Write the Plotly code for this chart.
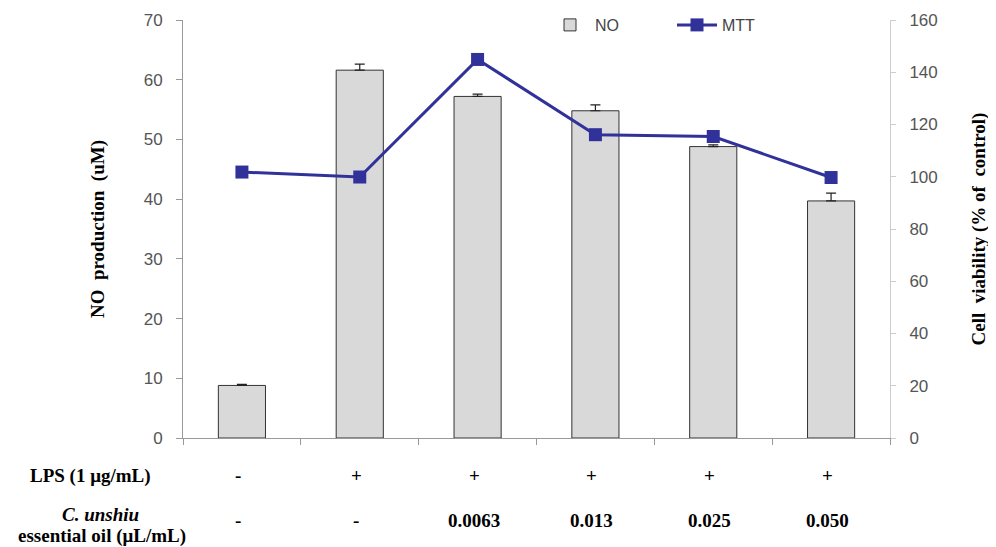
import plotly.graph_objects as go

categories = [0, 1, 2, 3, 4, 5]
no_values = [8.8, 61.6, 57.2, 54.8, 48.8, 39.7]
no_errors = [0.2, 1.0, 0.4, 1.0, 0.3, 1.3]
mtt_values = [101.8, 99.9, 144.9, 116.1, 115.4, 99.7]
lps_labels = ["-", "+", "+", "+", "+", "+"]
oil_labels = ["-", "-", "0.0063", "0.013", "0.025", "0.050"]
left_ticks = [0, 10, 20, 30, 40, 50, 60, 70]
right_ticks = [0, 20, 40, 60, 80, 100, 120, 140, 160]

# page body has an 8px margin, so the figure is drawn 8px smaller and offset
OFF = 8
W, H = 996 - OFF, 547 - OFF
L, T = 183 - OFF, 20 - OFF
R = W - (890 - OFF)
B = H - (438 - OFF)
PW, PH = W - L - R, H - T - B


def py(ref_y):
    return (H - B - (ref_y - OFF)) / PH


def px_x(ref_x):
    return (ref_x - OFF - L) / PW


fig = go.Figure()
fig.add_trace(go.Bar(
    x=categories, y=no_values, name="NO", width=0.4,
    marker=dict(color="#d9d9d9", line=dict(color="#333333", width=1)),
    error_y=dict(type="data", array=no_errors, symmetric=False, color="#222222",
                 thickness=1.2, width=5),
))
fig.add_trace(go.Scatter(
    x=categories, y=mtt_values, name="MTT", yaxis="y2", mode="lines+markers",
    line=dict(color="#31319a", width=3),
    marker=dict(symbol="square", size=13, color="#31319a"),
))

tick_font = dict(family="Liberation Sans, Arial, sans-serif", size=17, color="#555555")
title_font = dict(family="Liberation Serif, Times New Roman, serif", size=19, color="#000000")

fig.update_layout(
    width=W, height=H,
    margin=dict(l=L, r=R, t=T, b=B, autoexpand=False),
    paper_bgcolor="white", plot_bgcolor="white",
    showlegend=True,
    legend=dict(orientation="h", x=px_x(545), y=py(25), xanchor="left", yanchor="middle",
                font=dict(family="Liberation Sans, Arial, sans-serif", size=16, color="#444444"),
                entrywidth=72, itemwidth=40, bgcolor="rgba(0,0,0,0)"),
    xaxis=dict(range=[-0.5, 5.5], tickmode="array",
               tickvals=[-0.5, 0.5, 1.5, 2.5, 3.5, 4.5, 5.5],
               ticktext=[""] * 7, ticks="outside", ticklen=6, tickcolor="#999999",
               showline=True, linecolor="#999999", linewidth=1, showgrid=False,
               zeroline=False),
    yaxis=dict(range=[0, 70], tickmode="array", tickvals=left_ticks,
               ticks="outside", ticklen=6, tickcolor="#999999", ticklabelstandoff=10,
               showline=True, linecolor="#999999", linewidth=1, showgrid=False,
               zeroline=False, tickfont=tick_font,
               title=dict(text="<b>NO  production  (uM)</b>", font=title_font, standoff=34)),
    yaxis2=dict(range=[0, 160], tickmode="array", tickvals=right_ticks,
                overlaying="y", side="right",
                ticks="outside", ticklen=5, tickcolor="#cccccc", ticklabelstandoff=10,
                showline=True, linecolor="#cccccc", linewidth=1, showgrid=False,
                zeroline=False, tickfont=tick_font,
                title=dict(text="<b>Cell  viability (% of  control)</b>", font=title_font,
                           standoff=34)),
)

label_font = dict(family="Liberation Serif, Times New Roman, serif", size=19, color="#000000")
row_labels = [
    ("<b>LPS (1 μg/mL)</b>", 90, 476),
    ("<b><i>C. unshiu</i></b>", 100, 515),
    ("<b>essential oil (μL/mL)</b>", 102, 536),
]
for text, xp, yp in row_labels:
    fig.add_annotation(text=text, x=px_x(xp), y=py(yp), xref="paper", yref="paper",
                       showarrow=False, font=label_font, xanchor="center", yanchor="middle")

for c, lps, oil in zip(categories, lps_labels, oil_labels):
    fig.add_annotation(text="<b>" + lps + "</b>", x=c - 0.03, y=py(476), xref="x", yref="paper",
                       showarrow=False, font=label_font, yanchor="middle")
    fig.add_annotation(text="<b>" + oil + "</b>", x=c - 0.03, y=py(520), xref="x", yref="paper",
                       showarrow=False, font=label_font, yanchor="middle")

fig.write_html("out.html")
